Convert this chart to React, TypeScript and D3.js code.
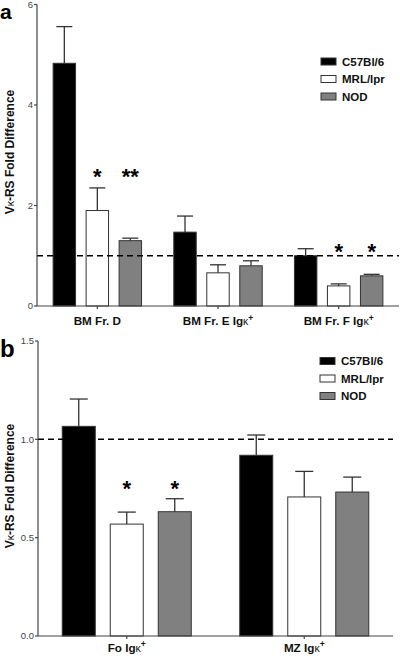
import React from "react";
import * as d3 from "d3";

// ---------- data ----------
const seriesNames = ["C57Bl/6", "MRL/lpr", "NOD"];
const seriesFill = ["#000000", "#ffffff", "#808080"];

const groupsA = ["BM Fr. D", "BM Fr. E", "BM Fr. F"];
const groupsAKappa = [false, true, true];
const meansA_C57 = [4.83, 1.47, 1.0];
const meansA_MRL = [1.9, 0.66, 0.4];
const meansA_NOD = [1.3, 0.8, 0.6];
const errA_C57 = [0.73, 0.32, 0.14];
const errA_MRL = [0.45, 0.16, 0.04];
const errA_NOD = [0.05, 0.1, 0.03];
const ticksA = [0, 2, 4, 6];
const starsA = [
  { group: 0, series: 1, text: "*", y: 2.65 },
  { group: 0, series: 2, text: "**", y: 2.65 },
  { group: 2, series: 1, text: "*", y: 1.15 },
  { group: 2, series: 2, text: "*", y: 1.15 },
];

const groupsB = ["Fo", "MZ"];
const meansB_C57 = [1.066, 0.919];
const meansB_MRL = [0.569, 0.707];
const meansB_NOD = [0.632, 0.732];
const errB_C57 = [0.139, 0.103];
const errB_MRL = [0.061, 0.13];
const errB_NOD = [0.066, 0.076];
const ticksB = [0, 0.5, 1.0, 1.5];
const starsB = [
  { group: 0, series: 1, text: "*", y: 0.768 },
  { group: 0, series: 2, text: "*", y: 0.768 },
];

const FONT = "'Liberation Sans', Arial, Helvetica, sans-serif";

type PanelProps = {
  letter: string;
  letterY: number;
  letterSize: number;
  groups: string[];
  kappa: boolean[];
  means: number[][];
  errs: number[][];
  ticks: number[];
  tickFmt: (v: number) => string;
  yMax: number;
  stars: { group: number; series: number; text: string; y: number }[];
  x0: number;
  x1: number;
  yTop: number;
  yBottom: number;
  innerHalf: number;
  innerPad: number;
  capW: number;
  legendX: number;
  legendY: number;
  labelY: number;
  axisLabelCenter: number;
};

function Panel(p: PanelProps) {
  const y = d3.scaleLinear().domain([0, p.yMax]).range([p.yBottom, p.yTop]);
  const gx = d3.scaleBand<string>().domain(p.groups).range([p.x0, p.x1]).padding(0);
  const sx = d3
    .scaleBand<string>()
    .domain(seriesNames)
    .range([-p.innerHalf, p.innerHalf])
    .paddingInner(p.innerPad)
    .paddingOuter(p.innerPad / 2);
  const bw = sx.bandwidth();
  const center = (g: number) => (gx(p.groups[g]) as number) + gx.bandwidth() / 2;
  const barX = (g: number, s: number) => center(g) + (sx(seriesNames[s]) as number);

  return (
    <g fontFamily={FONT}>
      <text x={0} y={p.letterY} fontSize={p.letterSize} fontWeight="bold" fill="#000">
        {p.letter}
      </text>
      {/* y label */}
      <text
        transform={`translate(14,${p.axisLabelCenter}) rotate(-90)`}
        textAnchor="middle"
        fontSize={12}
        fontWeight="bold"
        fill="#111"
      >
        V<tspan fontWeight="normal" fontSize={10.5}>κ</tspan>-RS Fold Difference
      </text>
      {/* bars */}
      {seriesNames.map((_, s) =>
        p.groups.map((_, g) => {
          const v = p.means[s][g];
          const e = p.errs[s][g];
          const bx = barX(g, s);
          const cx = bx + bw / 2;
          return (
            <g key={`${s}-${g}`}>
              <line x1={cx} x2={cx} y1={y(v)} y2={y(v + e)} stroke="#333" strokeWidth={1.3} />
              <line
                x1={cx - p.capW / 2}
                x2={cx + p.capW / 2}
                y1={y(v + e)}
                y2={y(v + e)}
                stroke="#333"
                strokeWidth={1.3}
              />
              <rect
                x={bx}
                y={y(v)}
                width={bw}
                height={y(0) - y(v)}
                fill={seriesFill[s]}
                stroke="#333"
                strokeWidth={1}
              />
            </g>
          );
        })
      )}
      {/* dashed reference */}
      <line
        x1={p.x0}
        x2={p.x1}
        y1={y(1)}
        y2={y(1)}
        stroke="#000"
        strokeWidth={1.5}
        strokeDasharray="6,4"
      />
      {/* axes */}
      <line x1={p.x0} x2={p.x0} y1={p.yTop} y2={p.yBottom} stroke="#444" strokeWidth={1.2} />
      <line x1={p.x0} x2={p.x1} y1={p.yBottom} y2={p.yBottom} stroke="#444" strokeWidth={1.2} />
      {p.ticks.map((t) => (
        <g key={t}>
          <line x1={p.x0 - 3} x2={p.x0} y1={y(t)} y2={y(t)} stroke="#444" strokeWidth={1.2} />
          <text
            x={p.x0 - 4}
            y={y(t)}
            dy="0.35em"
            textAnchor="end"
            fontSize={9.5}
            fill="#444"
          >
            {p.tickFmt(t)}
          </text>
        </g>
      ))}
      {p.groups.map((gname, g) => (
        <g key={gname}>
          <line
            x1={center(g)}
            x2={center(g)}
            y1={p.yBottom}
            y2={p.yBottom + 3}
            stroke="#444"
            strokeWidth={1.2}
          />
          <text
            x={center(g)}
            y={p.labelY}
            textAnchor="middle"
            fontSize={11.7}
            fontWeight="bold"
            fill="#111"
          >
            {gname}
            {p.kappa[g] ? (
              <>
                {" Ig"}
                <tspan fontWeight="normal" fontSize={10.5}>κ</tspan>
                <tspan fontSize={8.5} dy={-4.5}>+</tspan>
              </>
            ) : null}
          </text>
        </g>
      ))}
      {/* stars */}
      {p.stars.map((st, i) => (
        <text
          key={i}
          x={barX(st.group, st.series) + bw / 2}
          y={y(st.y) + 11}
          textAnchor="middle"
          fontSize={22}
          fontWeight="bold"
          fill="#000"
        >
          {st.text}
        </text>
      ))}
      {/* legend */}
      {seriesNames.map((name, s) => (
        <g key={name} transform={`translate(${p.legendX},${p.legendY + s * 17.5})`}>
          <rect x={0} y={-3.5} width={15} height={7} fill={seriesFill[s]} stroke="#333" strokeWidth={1} />
          <text x={21} y={0} dy="0.36em" fontSize={11.5} fontWeight="bold" fill="#111">
            {name}
          </text>
        </g>
      ))}
    </g>
  );
}

export default function App() {
  return (
    <svg
      width={400}
      height={656}
      style={{ position: "absolute", left: 0, top: 0, background: "#fff" }}
    >
      <rect width={400} height={656} fill="#fff" />
      <Panel
        letter="a"
        letterY={19}
        letterSize={21}
        groups={groupsA}
        kappa={groupsAKappa}
        means={[meansA_C57, meansA_MRL, meansA_NOD]}
        errs={[errA_C57, errA_MRL, errA_NOD]}
        ticks={ticksA}
        tickFmt={(v) => d3.format("d")(v)}
        yMax={6}
        stars={starsA}
        x0={37}
        x1={399}
        yTop={4.5}
        yBottom={306}
        innerHalf={49.5}
        innerPad={0.32}
        capW={16}
        legendX={321}
        legendY={61.5}
        labelY={325}
        axisLabelCenter={152}
      />
      <Panel
        letter="b"
        letterY={356.5}
        letterSize={24}
        groups={groupsB}
        kappa={[true, true]}
        means={[meansB_C57, meansB_MRL, meansB_NOD]}
        errs={[errB_C57, errB_MRL, errB_NOD]}
        ticks={ticksB}
        tickFmt={(v) => d3.format(".1f")(v)}
        yMax={1.5}
        stars={starsB}
        x0={38}
        x1={393}
        yTop={341}
        yBottom={636}
        innerHalf={72}
        innerPad={0.3125}
        capW={18}
        legendX={320}
        legendY={361}
        labelY={651.5}
        axisLabelCenter={486}
      />
    </svg>
  );
}
